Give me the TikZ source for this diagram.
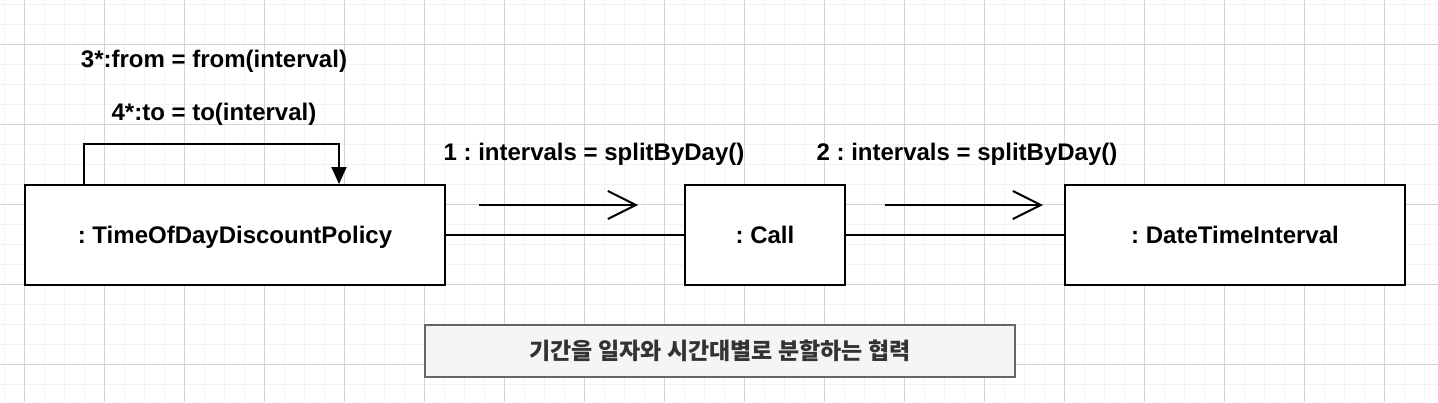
\documentclass[tikz,border=0pt]{standalone}
\usepackage{fontspec}
\setmainfont{Liberation Sans}
\newfontfamily\kr{Noto Sans CJK KR}
\usetikzlibrary{arrows.meta}
\frenchspacing
\definecolor{gminor}{HTML}{F3F3F3}
\definecolor{gmajor}{HTML}{D4D4D4}
\definecolor{notefill}{HTML}{F5F5F5}
\definecolor{noteline}{HTML}{666666}
\definecolor{notetext}{HTML}{333333}
\tikzset{
  objbox/.style={draw=black, line width=1pt, fill=white, minimum height=50pt, inner sep=0pt,
    text height=8.6pt, text depth=0pt,
    font=\fontsize{12}{14}\selectfont\bfseries},
  msglabel/.style={inner sep=0pt, text height=8.6pt, text depth=0pt,
    font=\fontsize{12}{14}\selectfont\bfseries},
  link/.style={draw=black, line width=1pt},
  msgarrow/.style={draw=black, line width=1pt, -{Straight Barb[length=14pt,width=14pt,line width=1pt]}},
  selfarrow/.style={draw=black, line width=1pt, -{Triangle[length=8.5pt,width=7.5pt]}},
  notebox/.style={draw=noteline, line width=1pt, fill=notefill, minimum width=295pt, minimum height=26pt,
    inner sep=0pt, text=notetext, font=\kr\bfseries\fontsize{11.5}{13}\selectfont}
}
\begin{document}
\begin{tikzpicture}[x=0.5pt,y=-0.5pt]
\useasboundingbox (0,0) rectangle (1438,402);
\fill[white] (0,0) rectangle (1438,402);
% grid
\foreach \gx in {4,24,...,1438} {\draw[gminor, line width=0.5pt] (\gx,0) -- (\gx,402);}
\foreach \gy in {4,24,...,402} {\draw[gminor, line width=0.5pt] (0,\gy) -- (1438,\gy);}
\foreach \gx in {24,104,...,1438} {\draw[gmajor, line width=0.5pt] (\gx,0) -- (\gx,402);}
\foreach \gy in {44,124,...,402} {\draw[gmajor, line width=0.5pt] (0,\gy) -- (1438,\gy);}
% objects
\node[objbox, minimum width=210pt] (p) at (235,235) {: TimeOfDayDiscountPolicy};
\node[objbox, minimum width=80pt] (c) at (765,235) {: Call};
\node[objbox, minimum width=170pt] (d) at (1235,235) {: DateTimeInterval};
% links
\draw[link] (p.east) -- (c.west);
\draw[link] (c.east) -- (d.west);
% self message
\draw[selfarrow] ([xshift=30pt]p.north west) -- ++(0,-40) -| ([xshift=157.5pt]p.north west);
% message arrows
\coordinate (m1s) at (479,205);
\coordinate (m1e) at (638,205);
\coordinate (m2s) at (885,205);
\coordinate (m2e) at (1043,205);
\draw[msgarrow] (m1s) -- (m1e);
\draw[msgarrow] (m2s) -- (m2e);
% labels
\node[msglabel] (l3) at (214,58.5) {3*:from = from(interval)};
\node[msglabel] (l4) at (214,111.5) {4*:to = to(interval)};
\node[msglabel] (l1) at (594,152) {1 : intervals = splitByDay()};
\node[msglabel] (l2) at (967,152) {2 : intervals = splitByDay()};
% note
\node[notebox] (n) at (720,351) {기간을 일자와 시간대별로 분할하는 협력};
\end{tikzpicture}
\end{document}
